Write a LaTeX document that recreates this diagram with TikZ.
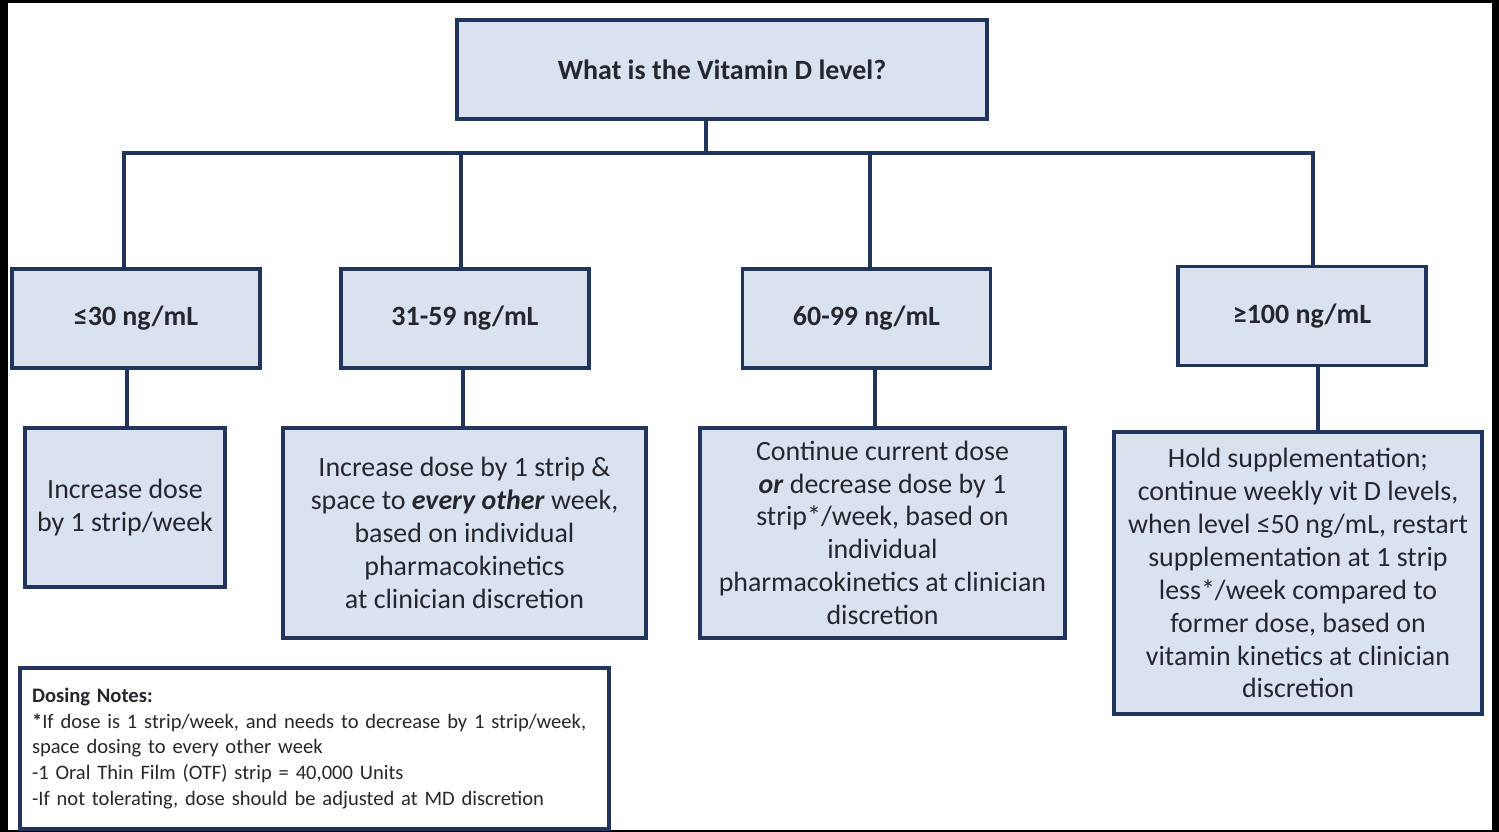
\documentclass[tikz,border=0pt]{standalone}
\usepackage{fontspec}
\setmainfont{Carlito}
\usepackage{xcolor}
\usepackage{tikz}
\usetikzlibrary{positioning, calc}
\definecolor{mynavy}{RGB}{32,52,92}
\definecolor{myfill}{RGB}{218,226,240}
\definecolor{mytext}{RGB}{38,38,46}
\newcommand{\boxfont}{\fontsize{15.9}{18.7}\selectfont}
\newcommand{\notefont}{\fontsize{11.7}{14.7}\selectfont}
\tikzset{
  qbox/.style={rectangle, draw=mynavy, fill=myfill, text=mytext,
    align=center, line width=2.2pt, font=\boxfont\bfseries},
  levelbox/.style={qbox, minimum width=4.96cm, minimum height=1.98cm},
  actbox/.style={rectangle, draw=mynavy, fill=myfill, text=mytext,
    align=center, line width=2.2pt, font=\boxfont, inner sep=2pt},
  line/.style={line width=2pt, color=mynavy}
}

\begin{document}
\begin{tikzpicture}[x=0.02cm, y=-0.02cm]

  \useasboundingbox (0,0) rectangle (1499,832);
  \fill[black] (0,0) rectangle (1499,832);
  \fill[white] (8,3) rectangle (1492,830);

  \node[qbox, minimum width=10.6cm, minimum height=1.98cm] (top) at (722,69.5) {What is the Vitamin D level?};

  \node[levelbox] (lo) at (136,318.5) {≤30 ng/mL};
  \node[levelbox] (mid) at (465,318.5) {31-59 ng/mL};
  \node[levelbox] (hi) at (866.5,318.5) {60-99 ng/mL};
  \node[levelbox] (vhi) at (1302,316) {≥100 ng/mL};

  \node[actbox, minimum width=4cm, minimum height=3.18cm, below=1.12cm of lo, xshift=-0.22cm] (act1)
    {Increase dose\\by 1 strip/week};
  \node[actbox, minimum width=7.26cm, minimum height=4.2cm, below=1.12cm of mid, xshift=-0.01cm] (act2)
    {Increase dose by 1 strip \&\\space to \textbf{\textit{every other}} week,\\based on individual\\pharmacokinetics\\at clinician discretion};
  \node[actbox, minimum width=7.3cm, minimum height=4.2cm, below=1.12cm of hi, xshift=0.32cm] (act3)
    {Continue current dose\\\textbf{\textit{or}} decrease dose by 1\\strip*/week, based on\\individual\\pharmacokinetics at clinician\\discretion};
  \node[actbox, minimum width=7.36cm, minimum height=5.64cm, below=1.26cm of vhi, xshift=-0.08cm] (act4)
    {Hold supplementation;\\continue weekly vit D levels,\\when level ≤50 ng/mL, restart\\supplementation at 1 strip\\less*/week compared to\\former dose, based on\\vitamin kinetics at clinician\\discretion};

  \node[rectangle, draw=mynavy, fill=white, text=mytext, line width=2.2pt, align=left,
    font=\notefont, text width=11.3cm, inner sep=0.24cm, minimum height=3.22cm] (notes) at (314.5,748.5)
    {\textbf{Dosing Notes:}\\
     \textbf{*}If dose is 1 strip/week, and needs to decrease by 1 strip/week,\\
     space dosing to every other week\\
     -1 Oral Thin Film (OTF) strip = 40,000 Units\\
     -If not tolerating, dose should be adjusted at MD discretion};

  % tree from the question to the four levels
  \coordinate (bus) at (706,153);
  \draw[line] (top.south -| bus) -- (bus);
  \draw[line] ([xshift=-0.24cm]lo.north) |- ([xshift=0.22cm]vhi.north |- bus) -- ([xshift=0.22cm]vhi.north);
  \draw[line] ([xshift=-0.08cm]mid.north) -- ([xshift=-0.08cm]mid.north |- bus);
  \draw[line] ([xshift=0.07cm]hi.north) -- ([xshift=0.07cm]hi.north |- bus);

  % levels to actions
  \draw[line] ([xshift=-0.18cm]lo.south) -- ([xshift=-0.18cm]lo.south |- act1.north);
  \draw[line] ([xshift=-0.04cm]mid.south) -- ([xshift=-0.04cm]mid.south |- act2.north);
  \draw[line] ([xshift=0.17cm]hi.south) -- ([xshift=0.17cm]hi.south |- act3.north);
  \draw[line] ([xshift=0.32cm]vhi.south) -- ([xshift=0.32cm]vhi.south |- act4.north);
\end{tikzpicture}
\end{document}
